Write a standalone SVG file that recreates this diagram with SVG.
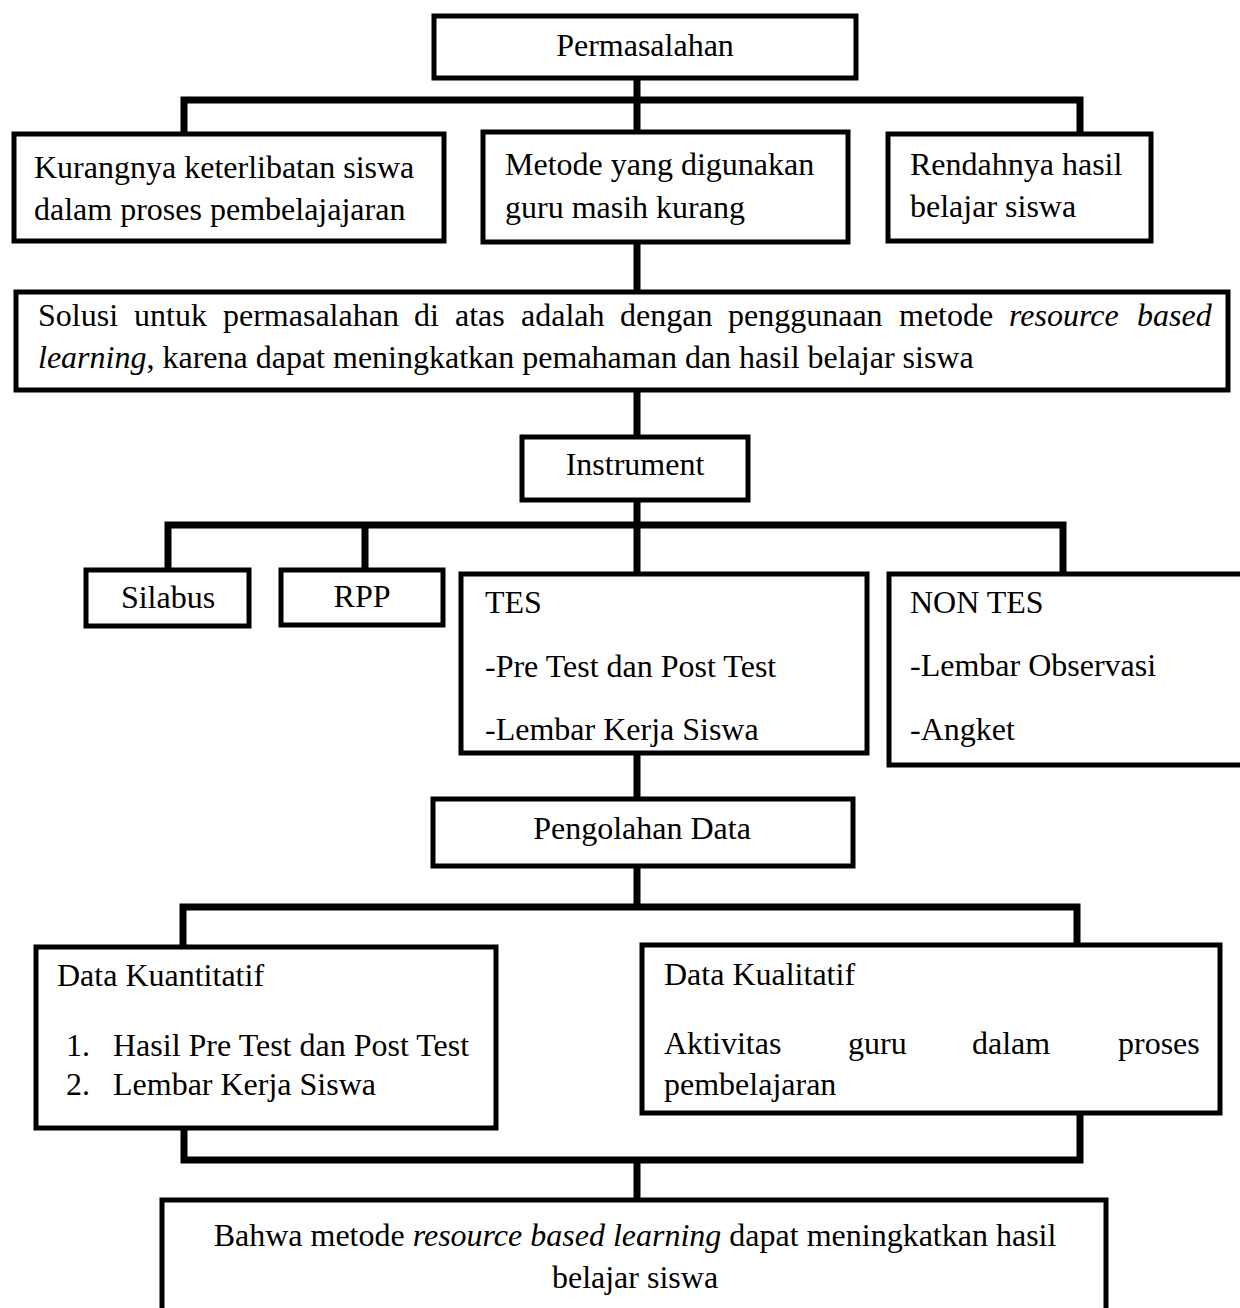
<svg xmlns="http://www.w3.org/2000/svg" width="1240" height="1308" viewBox="0 0 1240 1308">
<style>
.box{fill:#fff;stroke:#000;stroke-width:5}
.con{fill:none;stroke:#000;stroke-width:7;stroke-linejoin:miter;stroke-linecap:butt}
text{font-family:"Liberation Serif","Times New Roman",serif;font-size:32px;fill:#000}
.c{text-anchor:middle}
.i{font-style:italic}
</style>
<rect width="1240" height="1308" fill="#fff"/>
<g id="connectors">
<path class="con" d="M637,78 V132"/>
<path class="con" d="M184,134 V100 H1080 V134"/>
<path class="con" d="M637,242 V292"/>
<path class="con" d="M637,390 V437"/>
<path class="con" d="M637,500 V574"/>
<path class="con" d="M168,570 V525 H1063 V574"/>
<path class="con" d="M365,525 V570"/>
<path class="con" d="M637,753 V799"/>
<path class="con" d="M637,866 V907"/>
<path class="con" d="M183,947 V907 H1077 V945"/>
<path class="con" d="M184,1128 V1160 H1080 V1113"/>
<path class="con" d="M637,1160 V1200"/>
</g>
<g id="permasalahan">
<rect class="box" x="434" y="16" width="422" height="62"/>
<text class="c" x="645" y="56">Permasalahan</text>
</g>
<g id="kurangnya">
<rect class="box" x="14" y="134" width="430" height="107"/>
<text x="34" y="178">Kurangnya keterlibatan siswa</text>
<text x="34" y="220">dalam proses pembelajajaran</text>
</g>
<g id="metode">
<rect class="box" x="483" y="132" width="365" height="110"/>
<text x="505" y="175">Metode yang digunakan</text>
<text x="505" y="218">guru masih kurang</text>
</g>
<g id="rendahnya">
<rect class="box" x="888" y="134" width="263" height="107"/>
<text x="910" y="175">Rendahnya hasil</text>
<text x="910" y="217">belajar siswa</text>
</g>
<g id="solusi">
<rect class="box" x="16" y="292" width="1212" height="98"/>
<text y="326"><tspan x="38">Solusi</tspan><tspan x="134">untuk</tspan><tspan x="223">permasalahan</tspan><tspan x="414">di</tspan><tspan x="455">atas</tspan><tspan x="521">adalah</tspan><tspan x="620">dengan</tspan><tspan x="728">penggunaan</tspan><tspan x="899">metode</tspan><tspan x="1009" class="i">resource</tspan><tspan x="1137" class="i">based</tspan></text>
<text x="38" y="368"><tspan class="i">learning</tspan>, karena dapat meningkatkan pemahaman dan hasil belajar siswa</text>
</g>
<g id="instrument">
<rect class="box" x="522" y="437" width="226" height="63"/>
<text class="c" x="635" y="475">Instrument</text>
</g>
<g id="silabus">
<rect class="box" x="86" y="570" width="163" height="56"/>
<text class="c" x="168" y="608">Silabus</text>
</g>
<g id="rpp">
<rect class="box" x="281" y="570" width="162" height="55"/>
<text class="c" x="362" y="607">RPP</text>
</g>
<g id="tes">
<rect class="box" x="461" y="574" width="406" height="179"/>
<text x="485" y="613">TES</text>
<text x="485" y="677">-Pre Test dan Post Test</text>
<text x="485" y="740">-Lembar Kerja Siswa</text>
</g>
<g id="nontes">
<rect class="box" x="889" y="574" width="360" height="191"/>
<text x="910" y="613">NON TES</text>
<text x="910" y="676">-Lembar Observasi</text>
<text x="910" y="740">-Angket</text>
</g>
<g id="pengolahan">
<rect class="box" x="433" y="799" width="420" height="67"/>
<text class="c" x="642" y="839">Pengolahan Data</text>
</g>
<g id="kuantitatif">
<rect class="box" x="36" y="947" width="460" height="181"/>
<text x="57" y="986">Data Kuantitatif</text>
<text x="66" y="1056">1.</text>
<text x="113" y="1056">Hasil Pre Test dan Post Test</text>
<text x="66" y="1095">2.</text>
<text x="113" y="1095">Lembar Kerja Siswa</text>
</g>
<g id="kualitatif">
<rect class="box" x="642" y="945" width="578" height="168"/>
<text x="664" y="985">Data Kualitatif</text>
<text y="1054"><tspan x="664">Aktivitas</tspan><tspan x="848">guru</tspan><tspan x="972">dalam</tspan><tspan x="1118">proses</tspan></text>
<text x="664" y="1095">pembelajaran</text>
</g>
<g id="kesimpulan">
<rect class="box" x="162" y="1200" width="944" height="130"/>
<text class="c" x="635" y="1246">Bahwa metode <tspan class="i">resource based learning</tspan> dapat meningkatkan hasil</text>
<text class="c" x="635" y="1288">belajar siswa</text>
</g>
</svg>
